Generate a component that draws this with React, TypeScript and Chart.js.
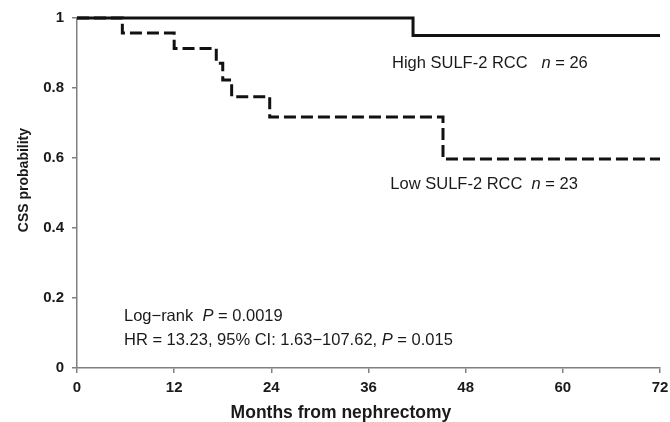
import React, { useEffect, useRef } from "react";
import { Chart, registerables } from "chart.js";

Chart.register(...registerables);

// Kaplan–Meier curves (months, survival probability)
const highTimes = [0, 41.5, 72];
const highSurv = [1, 0.95, 0.95];
const lowTimes = [0, 5.6, 12, 17.2, 18.0, 19.1, 23.8, 45.2, 72];
const lowSurv = [1, 0.957, 0.913, 0.871, 0.823, 0.775, 0.717, 0.597, 0.597];

const xTicks = [0, 12, 24, 36, 48, 60, 72];
const yTicks = [0, 0.2, 0.4, 0.6, 0.8, 1];

const xTitle = "Months from nephrectomy";
const yTitle = "CSS probability";

type Seg = { t: string; i?: boolean };
const highLabel: Seg[] = [{ t: "High SULF-2 RCC   " }, { t: "n", i: true }, { t: " = 26" }];
const lowLabel: Seg[] = [{ t: "Low SULF-2 RCC  " }, { t: "n", i: true }, { t: " = 23" }];
const logRankLabel: Seg[] = [{ t: "Log\u2212rank  " }, { t: "P", i: true }, { t: " = 0.0019" }];
const hrLabel: Seg[] = [
  { t: "HR = 13.23, 95% CI: 1.63\u2212107.62, " },
  { t: "P", i: true },
  { t: " = 0.015" },
];

const FONT = "'Liberation Sans', Arial, sans-serif";

function drawSegs(ctx: CanvasRenderingContext2D, segs: Seg[], x: number, y: number, size: number) {
  let cx = x;
  ctx.textBaseline = "middle";
  ctx.textAlign = "left";
  ctx.fillStyle = "#1a1a1a";
  for (const s of segs) {
    ctx.font = `${s.i ? "italic " : ""}${size}px ${FONT}`;
    ctx.fillText(s.t, cx, y);
    cx += ctx.measureText(s.t).width;
  }
}

const annotationPlugin = {
  id: "kmAnnotations",
  afterDraw(chart: any) {
    const ctx = chart.ctx as CanvasRenderingContext2D;
    const xs = chart.scales.x;
    const ys = chart.scales.y;
    const area = chart.chartArea;
    ctx.save();
    drawSegs(ctx, highLabel, xs.getPixelForValue(38.9), ys.getPixelForValue(0.87), 16.5);
    drawSegs(ctx, lowLabel, xs.getPixelForValue(38.7), ys.getPixelForValue(0.525), 16.5);
    drawSegs(ctx, logRankLabel, xs.getPixelForValue(5.8), ys.getPixelForValue(0.146), 16.5);
    drawSegs(ctx, hrLabel, xs.getPixelForValue(5.8), ys.getPixelForValue(0.08), 16.5);

    // axis titles
    ctx.fillStyle = "#1a1a1a";
    ctx.textAlign = "center";
    ctx.textBaseline = "middle";
    ctx.font = `bold 17.5px ${FONT}`;
    ctx.fillText(xTitle, xs.getPixelForValue(32.6), area.bottom + 45);
    ctx.translate(24, ys.getPixelForValue(0.537));
    ctx.rotate(-Math.PI / 2);
    ctx.font = `bold 14px ${FONT}`;
    ctx.fillText(yTitle, 0, 0);
    ctx.restore();
  },
};

export default function App() {
  const ref = useRef<HTMLCanvasElement | null>(null);

  useEffect(() => {
    document.body.style.margin = "0";
    const canvas = ref.current;
    if (!canvas) return;
    const chart = new Chart(canvas, {
      type: "line",
      data: {
        datasets: [
          {
            label: "High SULF-2 RCC",
            data: highTimes.map((t, i) => ({ x: t, y: highSurv[i] })),
            borderColor: "#111",
            borderWidth: 3,
            stepped: "before",
            pointRadius: 0,
            fill: false,
            clip: false as any,
          },
          {
            label: "Low SULF-2 RCC",
            data: lowTimes.map((t, i) => ({ x: t, y: lowSurv[i] })),
            borderColor: "#111",
            borderWidth: 3,
            borderDash: [12, 5],
            stepped: "before",
            pointRadius: 0,
            fill: false,
            clip: false as any,
          },
        ],
      },
      options: {
        responsive: false,
        animation: false,
        events: [],
        layout: { padding: { left: 0, right: 10, top: 18, bottom: 0 } },
        plugins: {
          legend: { display: false },
          tooltip: { enabled: false },
        },
        scales: {
          x: {
            type: "linear",
            min: 0,
            max: 72,
            afterFit: (s: any) => {
              s.height = 54;
              s.paddingLeft = 0;
              s.paddingRight = 0;
            },
            afterBuildTicks: (s: any) => {
              s.ticks = xTicks.map((v) => ({ value: v }));
            },
            ticks: {
              autoSkip: false,
              maxRotation: 0,
              padding: 6,
              color: "#1a1a1a",
              font: { family: FONT, size: 15, weight: "bold" },
            },
            grid: {
              display: true,
              drawOnChartArea: false,
              drawTicks: true,
              tickLength: 5,
              color: "#808080",
              lineWidth: 1.5,
            },
            border: { display: true, color: "#808080", width: 1.5 },
            title: { display: false },
          },
          y: {
            type: "linear",
            min: 0,
            max: 1,
            afterFit: (s: any) => {
              s.width = 77;
              s.paddingTop = 0;
              s.paddingBottom = 0;
            },
            afterBuildTicks: (s: any) => {
              s.ticks = yTicks.map((v) => ({ value: v }));
            },
            ticks: {
              autoSkip: false,
              padding: 8,
              color: "#1a1a1a",
              font: { family: FONT, size: 15, weight: "bold" },
              callback: (v: any) => (v === 0 || v === 1 ? String(v) : Number(v).toFixed(1)),
            },
            grid: {
              display: true,
              drawOnChartArea: false,
              drawTicks: true,
              tickLength: 5,
              color: "#808080",
              lineWidth: 1.5,
            },
            border: { display: true, color: "#808080", width: 1.5 },
            title: { display: false },
          },
        },
      },
      plugins: [annotationPlugin],
    });
    return () => chart.destroy();
  }, []);

  return (
    <div style={{ position: "absolute", left: 0, top: 0, width: 670, height: 422, background: "#fff" }}>
      <canvas ref={ref} width={670} height={422} style={{ width: 670, height: 422 }} />
    </div>
  );
}
